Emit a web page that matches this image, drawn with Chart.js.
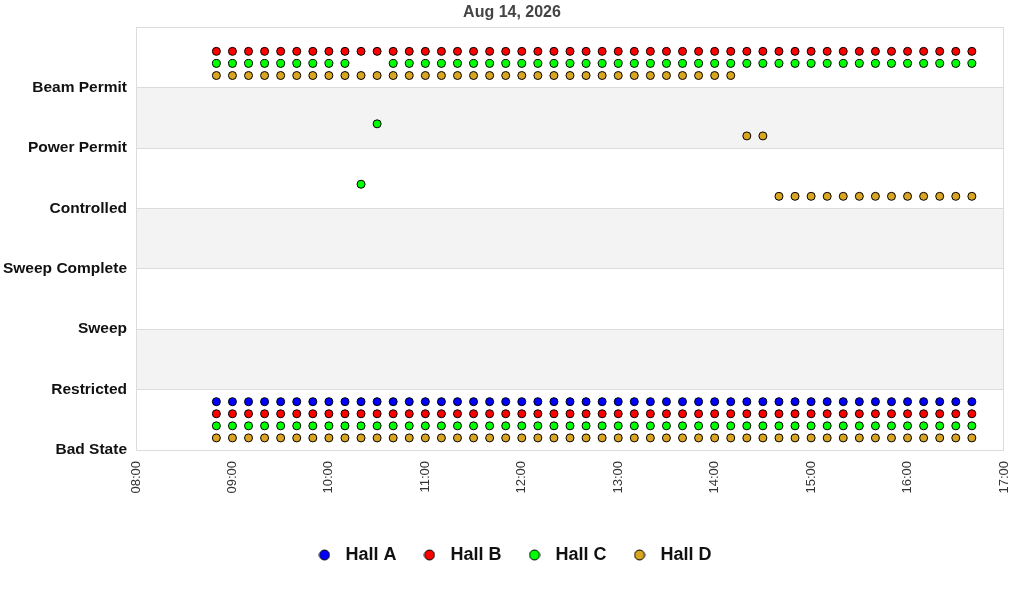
<!DOCTYPE html>
<html><head><meta charset="utf-8">
<script src="https://cdn.jsdelivr.net/npm/chart.js@4.4.1/dist/chart.umd.min.js"></script>
<style>html,body{margin:0;padding:0;background:#fff;}</style>
</head><body>
<canvas id="c" width="1024" height="600" style="width:1024px;height:600px;display:block"></canvas>
<script>
const chartTitle = 'Aug 14, 2026';
const states = ['Bad State','Restricted','Sweep','Sweep Complete','Controlled','Power Permit','Beam Permit'];
const xTickLabels = ['08:00','09:00','10:00','11:00','12:00','13:00','14:00','15:00','16:00','17:00'];
const times = [
  '08:50','09:00','09:10','09:20','09:30','09:40','09:50','10:00','10:10','10:20','10:30','10:40',
  '10:50','11:00','11:10','11:20','11:30','11:40','11:50','12:00','12:10','12:20','12:30','12:40',
  '12:50','13:00','13:10','13:20','13:30','13:40','13:50','14:00','14:10','14:20','14:30','14:40',
  '14:50','15:00','15:10','15:20','15:30','15:40','15:50','16:00','16:10','16:20','16:30','16:40'
];
const hallNames = ['Hall A','Hall B','Hall C','Hall D'];
const hallColors = ['#0000ff','#ff0000','#00ff00','#daa520'];

// state index per time (index into states)
const hallA_low = [
  0,0,0,0,0,0,0,0,0,0,0,0,
  0,0,0,0,0,0,0,0,0,0,0,0,
  0,0,0,0,0,0,0,0,0,0,0,0,
  0,0,0,0,0,0,0,0,0,0,0,0
];
const hallB_low = [
  0,0,0,0,0,0,0,0,0,0,0,0,
  0,0,0,0,0,0,0,0,0,0,0,0,
  0,0,0,0,0,0,0,0,0,0,0,0,
  0,0,0,0,0,0,0,0,0,0,0,0
];
const hallB_high = [
  6,6,6,6,6,6,6,6,6,6,6,6,
  6,6,6,6,6,6,6,6,6,6,6,6,
  6,6,6,6,6,6,6,6,6,6,6,6,
  6,6,6,6,6,6,6,6,6,6,6,6
];
const hallC_low = [
  0,0,0,0,0,0,0,0,0,0,0,0,
  0,0,0,0,0,0,0,0,0,0,0,0,
  0,0,0,0,0,0,0,0,0,0,0,0,
  0,0,0,0,0,0,0,0,0,0,0,0
];
const hallC_high = [
  6,6,6,6,6,6,6,6,6,4,5,6,
  6,6,6,6,6,6,6,6,6,6,6,6,
  6,6,6,6,6,6,6,6,6,6,6,6,
  6,6,6,6,6,6,6,6,6,6,6,6
];
const hallD_low = [
  0,0,0,0,0,0,0,0,0,0,0,0,
  0,0,0,0,0,0,0,0,0,0,0,0,
  0,0,0,0,0,0,0,0,0,0,0,0,
  0,0,0,0,0,0,0,0,0,0,0,0
];
const hallD_high = [
  6,6,6,6,6,6,6,6,6,6,6,6,
  6,6,6,6,6,6,6,6,6,6,6,6,
  6,6,6,6,6,6,6,6,6,5,5,4,
  4,4,4,4,4,4,4,4,4,4,4,4
];

const hallSeries = [
  [hallA_low],
  [hallB_low, hallB_high],
  [hallC_low, hallC_high],
  [hallD_low, hallD_high]
];
// vertical slot inside a state band for each hall
const hallSlot = [0.8, 0.6, 0.4, 0.2];

const toMin = s => { const [h,m] = s.split(':').map(Number); return h*60+m; };

const datasets = hallNames.map((name, h) => {
  const data = [];
  hallSeries[h].forEach(series => {
    series.forEach((st, i) => {
      if (st !== null && st !== undefined) data.push({x: toMin(times[i]), y: st + hallSlot[h]});
    });
  });
  return {
    label: name,
    data,
    backgroundColor: hallColors[h],
    borderColor: '#000',
    borderWidth: 1,
    pointRadius: 4,
    pointHoverRadius: 4,
    pointStyle: 'circle',
    showLine: false
  };
});

function legendIcon(color) {
  const c = document.createElement('canvas');
  c.width = 12; c.height = 12;
  const g = c.getContext('2d');
  g.beginPath();
  g.arc(6, 6, 5, 0, Math.PI*2);
  g.fillStyle = color; g.fill();
  g.lineWidth = 1; g.strokeStyle = '#000'; g.stroke();
  return c;
}
const icons = hallColors.map(legendIcon);

const bandPlugin = {
  id: 'bands',
  beforeDraw(chart) {
    const {ctx, chartArea: a, scales: {y}} = chart;
    ctx.save();
    ctx.fillStyle = '#f3f3f3';
    for (let k = 1; k < states.length; k += 2) {
      const top = y.getPixelForValue(k + 1), bot = y.getPixelForValue(k);
      ctx.fillRect(a.left, top, a.right - a.left, bot - top);
    }
    ctx.restore();
  },
  afterDatasetsDraw(chart) {
    const {ctx, chartArea: a} = chart;
    ctx.save();
    ctx.strokeStyle = '#dcdcdc';
    ctx.lineWidth = 1;
    ctx.strokeRect(Math.round(a.left) + 0.5, Math.round(a.top) + 0.5, Math.round(a.right - a.left) - 1, Math.round(a.bottom - a.top));
    ctx.restore();
  }
};

new Chart(document.getElementById('c'), {
  type: 'scatter',
  data: {datasets},
  plugins: [bandPlugin],
  options: {
    responsive: false,
    animation: false,
    devicePixelRatio: 1,
    layout: {padding: {left: 0, right: 0, top: 0, bottom: 26}},
    plugins: {
      title: {
        display: true, text: chartTitle, color: '#444',
        font: {family: 'Liberation Sans', size: 16, weight: 'bold'},
        padding: {top: 3, bottom: 5}
      },
      legend: {
        position: 'bottom',
        labels: {
          usePointStyle: true,
          pointStyleWidth: 24,
          padding: 21,
          color: '#111',
          font: {family: 'Liberation Sans', size: 18, weight: 'bold'},
          generateLabels(chart) {
            const items = Chart.defaults.plugins.legend.labels.generateLabels(chart);
            items.forEach(it => { it.pointStyle = icons[it.datasetIndex]; });
            return items;
          }
        }
      },
      tooltip: {enabled: false}
    },
    scales: {
      x: {
        type: 'linear',
        min: toMin(xTickLabels[0]),
        max: toMin(xTickLabels[xTickLabels.length - 1]),
        afterBuildTicks(scale) { scale.ticks = xTickLabels.map(t => ({value: toMin(t)})); },
        ticks: {
          callback: (v) => { const h = Math.floor(v/60), m = v % 60; return String(h).padStart(2,'0') + ':' + String(m).padStart(2,'0'); },
          maxRotation: 90, minRotation: 90, padding: 11, autoSkip: false,
          color: '#333', font: {family: 'Liberation Sans', size: 13}
        },
        grid: {display: false, drawTicks: false},
        border: {display: false},
        afterFit(scale) { scale.height = 75; scale.paddingLeft = 0; scale.paddingRight = 0; }
      },
      y: {
        min: 0, max: states.length,
        afterBuildTicks(scale) {
          const t = []; for (let i = 0; i <= states.length; i++) t.push({value: i}); scale.ticks = t;
        },
        ticks: {
          callback: (v) => states[v] !== undefined ? states[v] : '',
          padding: 9, color: '#111',
          font: {family: 'Liberation Sans', size: 15.5, weight: 'bold'}
        },
        grid: {color: '#dcdcdc', drawTicks: false},
        border: {display: false},
        afterFit(scale) { scale.width = 136; }
      },
      y2: {
        position: 'right', display: true,
        ticks: {display: false},
        grid: {display: false, drawTicks: false},
        border: {display: false},
        afterFit(scale) { scale.width = 20; scale.paddingTop = 0; scale.paddingBottom = 0; }
      }
    }
  }
});
</script>
</body></html>
